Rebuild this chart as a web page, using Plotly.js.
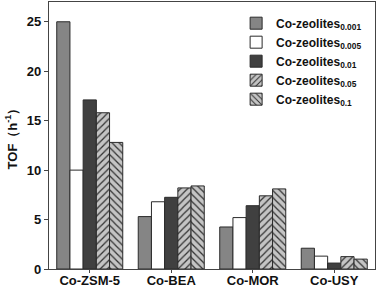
<!DOCTYPE html>
<html>
<head>
<meta charset="utf-8">
<script src="https://cdn.plot.ly/plotly-3.0.1.min.js"></script>
<style>html,body{margin:0;padding:0;background:#fff;}#chart{width:379px;height:289px;}</style>
</head>
<body>
<div id="chart"></div>
<script>
const categories = ["Co-ZSM-5", "Co-BEA", "Co-MOR", "Co-USY"];
const seriesNames = ["Co-zeolites<sub>0.001</sub>", "Co-zeolites<sub>0.005</sub>", "Co-zeolites<sub>0.01</sub>", "Co-zeolites<sub>0.05</sub>", "Co-zeolites<sub>0.1</sub>"];
const tof_0001 = [25.0, 5.3, 4.25, 2.1];
const tof_0005 = [10.0, 6.8, 5.2, 1.3];
const tof_001 = [17.1, 7.25, 6.4, 0.6];
const tof_005 = [15.8, 8.2, 7.4, 1.25];
const tof_01 = [12.8, 8.4, 8.1, 1.0];
const yTicks = [0, 5, 10, 15, 20, 25];

const values = [tof_0001, tof_0005, tof_001, tof_005, tof_01];
const fills = ["#858585", "#ffffff", "#404040", "#c4c4c4", "#c4c4c4"];
const patterns = ["", "", "", "/", "\\"];

const traces = values.map((v, i) => ({
  type: "bar",
  name: seriesNames[i],
  x: categories,
  y: v,
  marker: {
    color: fills[i],
    line: {color: "#2a2a2a", width: 1},
    pattern: patterns[i] ? {shape: patterns[i], fgcolor: "#333333", bgcolor: "#c4c4c4", size: 5, solidity: 0.25, fillmode: "replace"} : {shape: ""}
  }
}));

const layout = {
  width: 379, height: 289,
  margin: {l: 49, r: 4, t: 2, b: 20},
  paper_bgcolor: "#ffffff", plot_bgcolor: "#ffffff",
  barmode: "group", bargap: 0.19, bargroupgap: 0,
  font: {family: "Liberation Sans, Arial, sans-serif", color: "#111111", size: 12},
  showlegend: true,
  legend: {
    x: 0.574, y: 0.975, xanchor: "left", yanchor: "top",
    bgcolor: "rgba(0,0,0,0)", borderwidth: 0,
    font: {size: 12, family: "Liberation Sans, Arial, sans-serif", color: "#111", weight: "bold"},
    tracegroupgap: 0, itemwidth: 30
  },
  xaxis: {
    type: "category", categoryarray: categories, range: [-0.5, 3.5],
    showline: true, linecolor: "#444", linewidth: 1.2, mirror: true,
    ticks: "outside", ticklen: 3, tickcolor: "#444", ticklabelstandoff: -4,
    tickfont: {size: 13, weight: "bold"}, showgrid: false, zeroline: false
  },
  xaxis2: {
    overlaying: "x", anchor: "y", side: "bottom", range: [-0.5, 3.5],
    tickvals: [0.5, 1.5, 2.5], ticks: "outside", ticklen: 3, tickcolor: "#444",
    showticklabels: false, showgrid: false, zeroline: false, showline: false
  },
  yaxis: {
    range: [0, 27], tickvals: yTicks, ticktext: yTicks.map(String),
    showline: true, linecolor: "#444", linewidth: 1.2, mirror: true,
    ticks: "outside", ticklen: 4, tickcolor: "#444",
    tickfont: {size: 13, weight: "bold"}, showgrid: false, zeroline: false,
    title: {text: "TOF（h<sup>-1</sup>）", font: {size: 13, weight: "bold"}, standoff: 6}
  }
};

Plotly.newPlot("chart", traces, layout, {displayModeBar: false, staticPlot: true});
</script>
</body>
</html>
